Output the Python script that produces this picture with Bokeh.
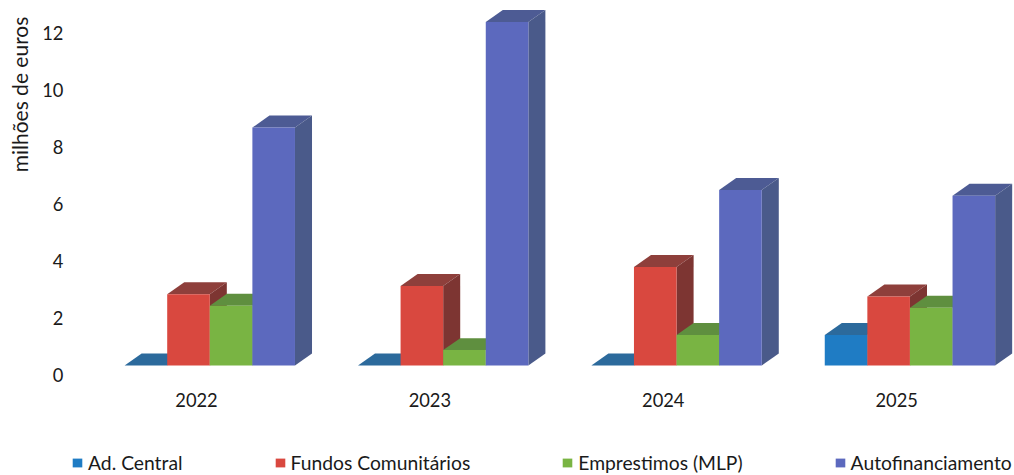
import math
from bokeh.plotting import figure
from bokeh.models import Range1d, FixedTicker, Legend, LegendItem, Label
from bokeh.embed import file_html
from bokeh.resources import INLINE

years = ["2022", "2023", "2024", "2025"]
series_names = ["Ad. Central", "Fundos Comunitários", "Emprestimos (MLP)", "Autofinanciamento"]
ad_central = [0.0, 0.0, 0.0, 1.07]
fundos = [2.5, 2.79, 3.46, 2.42]
emprestimos = [2.1, 0.54, 1.07, 2.03]
autofinanciamento = [8.35, 12.05, 6.16, 5.96]
y_ticks = [0, 2, 4, 6, 8, 10, 12]

front_colors = ["#1f7cc4", "#d9483f", "#79b443", "#5c69be"]
top_colors = ["#2c6a9c", "#8e3f3b", "#5f8f3f", "#4d5b94"]
side_colors = ["#2a5f8c", "#7d3532", "#557f38", "#4a5a8a"]

# Pseudo-3D geometry in axis units
BASE = 0.351
START = -0.308
BAR_W = 0.1825
DX = 0.073
DY = 0.42
FONT = "Lato"
TEXT = "#1a1a1a"

p = figure(width=1006, height=467, output_backend="svg", toolbar_location=None,
           x_range=Range1d(-0.8055, 3.505), y_range=Range1d(-3.509, 12.877),
           min_border_left=0, min_border_right=0, min_border_top=0, min_border_bottom=0,
           outline_line_color=None, frame_width=1006, frame_height=467,
           styles={"position": "absolute", "top": "8px", "left": "8px"})
p.grid.visible = False

legend_items = []
for s, vals in enumerate([ad_central, fundos, emprestimos, autofinanciamento]):
    lefts = [i + START + s * BAR_W for i in range(len(vals))]
    rights = [l + BAR_W for l in lefts]
    tops = [BASE + v for v in vals]
    p.patches([[l, r, r + DX, l + DX] for l, r in zip(lefts, rights)],
              [[t, t, t + DY, t + DY] for t in tops],
              fill_color=top_colors[s], line_color=None)
    p.patches([[r, r + DX, r + DX, r] for r in rights],
              [[BASE, BASE + DY, t + DY, t] for t in tops],
              fill_color=side_colors[s], line_color=None)
    front = p.quad(left=lefts, right=rights, bottom=BASE, top=tops,
                   fill_color=front_colors[s], line_color=None)
    legend_items.append(LegendItem(label=series_names[s], renderers=[front]))

p.xaxis.ticker = FixedTicker(ticks=list(range(len(years))))
p.xaxis.major_label_overrides = {i: y for i, y in enumerate(years)}
p.xaxis.fixed_location = -0.351
p.yaxis.ticker = FixedTicker(ticks=y_ticks)
p.yaxis.fixed_location = -0.54
for ax in (p.xaxis, p.yaxis):
    ax.axis_line_color = None
    ax.major_tick_line_color = None
    ax.minor_tick_line_color = None
    ax.major_tick_out = 0
    ax.major_tick_in = 0
    ax.major_label_text_font = FONT
    ax.major_label_text_font_size = "18.3px"
    ax.major_label_text_color = TEXT
p.xaxis.major_label_standoff = 8
p.yaxis.major_label_standoff = 7

p.add_layout(Label(x=-0.7605, y=9.86, text="milhões de euros", angle=math.pi / 2,
                   text_align="center", text_baseline="middle", text_font=FONT,
                   text_font_size="21px", text_color=TEXT))

legend = Legend(items=legend_items, orientation="horizontal", location=(63, 1),
                spacing=91, margin=0, padding=0, glyph_width=12, glyph_height=11,
                label_standoff=5, border_line_color=None, background_fill_alpha=0,
                label_text_font=FONT, label_text_font_size="19.3px",
                label_text_color=TEXT, label_height=12)
p.add_layout(legend)

open("out.html", "w").write(file_html(p, INLINE))
